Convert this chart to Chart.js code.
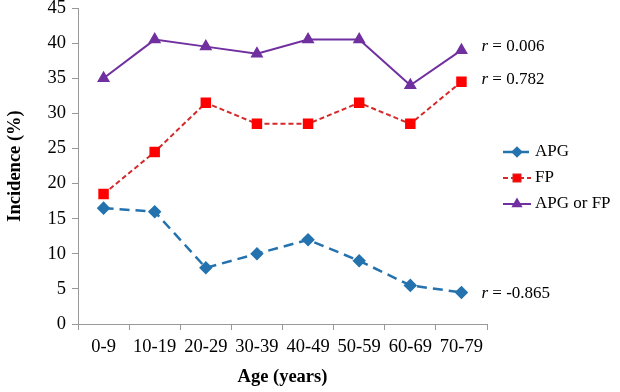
<!DOCTYPE html>
<html>
<head>
<meta charset="utf-8">
<script src="https://cdn.jsdelivr.net/npm/chart.js@4/dist/chart.umd.min.js"></script>
<style>
  html, body { margin: 0; padding: 0; background: #fff; }
  #wrap { width: 620px; height: 392px; position: relative; }
</style>
</head>
<body>
<div id="wrap"><canvas id="chart"></canvas></div>
<script>
const ageGroups = ['0-9', '10-19', '20-29', '30-39', '40-49', '50-59', '60-69', '70-79'];
const apg = [16.5, 16, 8, 10, 12, 9, 5.5, 4.5];
const fp = [18.5, 24.5, 31.5, 28.5, 28.5, 31.5, 28.5, 34.5];
const apgOrFp = [35, 40.5, 39.5, 38.5, 40.5, 40.5, 34, 39];
const corrLabels = ['-0.865', '0.782', '0.006'];

const serif = '"Liberation Serif", "Times New Roman", serif';

// legend + r values drawn by hand, to look like the excel original
const extrasPlugin = {
  id: 'extras',
  afterDatasetsDraw(chart) {
    const ctx = chart.ctx;
    ctx.save();
    ctx.textBaseline = 'middle';
    ctx.fillStyle = '#000';

    // r = ... next to the last point of each series
    chart.data.datasets.forEach((ds, i) => {
      const meta = chart.getDatasetMeta(i);
      const pt = meta.data[meta.data.length - 1];
      let x = pt.x + 20;
      const y = pt.y + (i === 2 ? -4 : (i === 1 ? -2 : 1));
      ctx.font = 'italic 17px ' + serif;
      ctx.fillText('r', x, y);
      x += ctx.measureText('r').width;
      ctx.font = '17px ' + serif;
      ctx.fillText(' = ' + corrLabels[i], x, y);
    });

    // legend
    const rows = [152, 178, 204];
    chart.data.datasets.forEach((ds, i) => {
      const y = rows[i];
      ctx.strokeStyle = ds.borderColor;
      ctx.lineWidth = ds.borderWidth;
      ctx.setLineDash(ds.borderDash || []);
      ctx.beginPath();
      ctx.moveTo(503, y);
      ctx.lineTo(531, y);
      ctx.stroke();
      ctx.setLineDash([]);
      Chart.helpers.drawPoint(ctx, {
        pointStyle: ds.pointStyle,
        radius: ds.pointRadius - 1,
        borderWidth: 1
      }, 517, y);
      ctx.fillStyle = ds.pointBackgroundColor;
      ctx.fill();
      ctx.fillStyle = '#000';
      ctx.font = '17px ' + serif;
      ctx.fillText(ds.label, 535, y);
    });
    ctx.restore();
  }
};

new Chart(document.getElementById('chart'), {
  type: 'line',
  data: {
    labels: ageGroups,
    datasets: [
      {
        label: 'APG',
        data: apg,
        borderColor: '#2472AE',
        backgroundColor: '#2472AE',
        pointBackgroundColor: '#2472AE',
        pointBorderColor: '#2472AE',
        borderWidth: 2.5,
        borderDash: [10, 6],
        pointStyle: 'rectRot',
        pointRadius: 5
      },
      {
        label: 'FP',
        data: fp,
        borderColor: '#D42A2A',
        backgroundColor: '#FF0000',
        pointBackgroundColor: '#FF0000',
        pointBorderColor: '#FF0000',
        borderWidth: 2,
        borderDash: [5, 3],
        pointStyle: 'rect',
        pointRadius: 6
      },
      {
        label: 'APG or FP',
        data: apgOrFp,
        borderColor: '#7030A0',
        backgroundColor: '#7030A0',
        pointBackgroundColor: '#7030A0',
        pointBorderColor: '#7030A0',
        borderWidth: 2,
        pointStyle: 'triangle',
        pointRadius: 5.5
      }
    ]
  },
  options: {
    responsive: true,
    maintainAspectRatio: false,
    animation: false,
    layout: { padding: { top: 0, right: 133, left: 0, bottom: 0 } },
    plugins: {
      legend: { display: false },
      tooltip: { enabled: false }
    },
    scales: {
      x: {
        offset: true,
        grid: { offset: true, drawOnChartArea: false, drawTicks: true, tickLength: 6, color: '#999' },
        border: { color: '#999' },
        ticks: { color: '#000', font: { family: serif, size: 18.5 }, padding: 6, maxRotation: 0 },
        title: { display: true, text: 'Age (years)', color: '#000', font: { family: serif, size: 18.5, weight: 'bold' }, padding: { top: 12 } },
        afterFit: s => { s.height = 68; }
      },
      y: {
        min: 0,
        max: 45,
        ticks: { stepSize: 5, color: '#000', font: { family: serif, size: 18.5 }, padding: 6 },
        grid: { drawOnChartArea: false, drawTicks: true, tickLength: 6, color: '#999' },
        border: { color: '#999' },
        title: { display: true, text: 'Incidence (%)', color: '#000', font: { family: serif, size: 18.5, weight: 'bold' }, padding: { bottom: 4 } },
        afterFit: s => { s.width = 78; s.paddingTop = 8; }
      }
    }
  },
  plugins: [extrasPlugin]
});
</script>
</body>
</html>
